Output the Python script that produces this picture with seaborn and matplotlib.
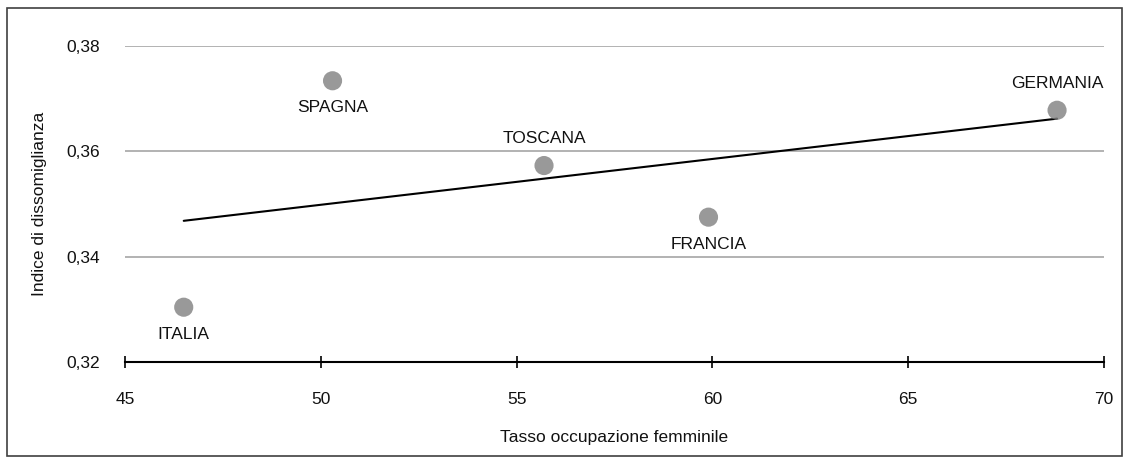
import matplotlib
matplotlib.use("Agg")
import matplotlib.pyplot as plt
import matplotlib.patches as patches
from matplotlib.ticker import FuncFormatter
import numpy as np
import pandas as pd
import seaborn as sns

# dati
paesi = ['ITALIA', 'SPAGNA', 'TOSCANA', 'FRANCIA', 'GERMANIA']
tasso_occ = [46.5, 50.3, 55.7, 59.9, 68.8]
indice_diss = [0.3304, 0.3734, 0.3573, 0.3475, 0.3678]
# posizione etichetta: sopra (1) o sotto (-1) il punto
pos_etich = [-1, -1, 1, -1, 1]

df = pd.DataFrame({'paese': paesi, 'x': tasso_occ, 'y': indice_diss})

sns.set_style("white")
plt.rcParams['font.family'] = ['Liberation Sans', 'DejaVu Sans']

fig = plt.figure(figsize=(11.29, 4.61), dpi=100)
ax = fig.add_axes([0.1107, 0.2148, 0.8672, 0.6854])

sns.regplot(data=df, x='x', y='y', ax=ax, ci=None, truncate=True,
            scatter_kws=dict(s=190, color='#808080', edgecolor='none', zorder=3),
            line_kws=dict(color='black', lw=1.5, zorder=2))

for p, xx, yy, s in zip(paesi, tasso_occ, indice_diss, pos_etich):
    ax.annotate(p, (xx, yy), xytext=(0, 19.5 * s), textcoords='offset points',
                ha='center', va='center', fontsize=12.5, color='#111111')

ax.set_xlim(45, 70)
ax.set_ylim(0.32, 0.38)
ax.set_xticks([45, 50, 55, 60, 65, 70])
ax.set_yticks([0.32, 0.34, 0.36, 0.38])
ax.yaxis.set_major_formatter(FuncFormatter(lambda v, _: f"{v:.2f}".replace('.', ',')))
ax.grid(axis='y', color='#a6a6a6', lw=1.2)
ax.grid(axis='x', visible=False)
for sp in ['top', 'right', 'left']:
    ax.spines[sp].set_visible(False)
ax.spines['bottom'].set_color('black')
ax.spines['bottom'].set_linewidth(1.5)
ax.tick_params(axis='x', direction='inout', length=9, width=1.2, color='black',
               pad=17, labelsize=12.5, bottom=True, labelcolor='#111111')
ax.tick_params(axis='y', length=0, pad=18, labelsize=12.5, labelcolor='#111111')
ax.set_xlabel('Tasso occupazione femminile', fontsize=12.5, labelpad=17, color='#111111')
ax.set_ylabel('Indice di dissomiglianza', fontsize=12.5, labelpad=14, color='#111111')

fig.patches.append(patches.Rectangle((7 / 1129, 5 / 461), 1115 / 1129, 448 / 461,
                                     transform=fig.transFigure, fill=False,
                                     edgecolor='#404040', lw=1.2))

fig.savefig('out.png', dpi=100)
